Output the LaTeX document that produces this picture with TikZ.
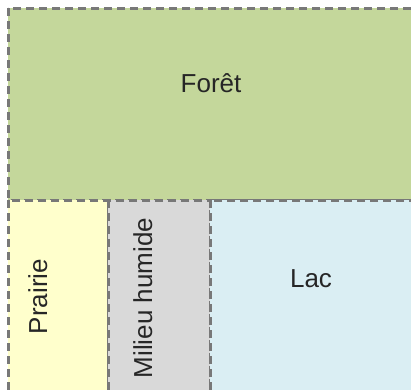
\documentclass[tikz,border=0pt]{standalone}
\usepackage{fontspec}
\setmainfont{Liberation Sans}
\definecolor{foret}{RGB}{196,215,155}
\definecolor{prairie}{RGB}{255,255,204}
\definecolor{milieu}{RGB}{217,217,217}
\definecolor{lac}{RGB}{218,238,243}
\definecolor{bord}{RGB}{120,120,120}
\begin{document}
\begin{tikzpicture}[x=1pt,y=1pt,
  zone/.style={draw=bord, line width=3pt, dash pattern=on 8pt off 5pt},
  lbl/.style={font=\fontsize{26}{30}\selectfont, text=black!85, anchor=base, inner sep=0pt}]
\useasboundingbox (0,0) rectangle (411,-389);
\clip (0,0) rectangle (411,-389);
\path[zone, fill=foret] (8,-8) rectangle (414,-200);
\path[zone, fill=prairie] (8,-200) rectangle (108,-392);
\path[zone, fill=milieu] (108,-200) rectangle (210,-392);
\path[zone, fill=lac] (210,-200) rectangle (414,-392);
\node[lbl] (foret) at (211,-92) {Forêt};
\node[lbl] (lac) at (311,-287) {Lac};
\node[lbl, rotate=90] (prairie) at (47,-296.5) {Prairie};
\node[lbl, rotate=90] (milieu) at (152,-298) {Milieu humide};
\end{tikzpicture}
\end{document}
